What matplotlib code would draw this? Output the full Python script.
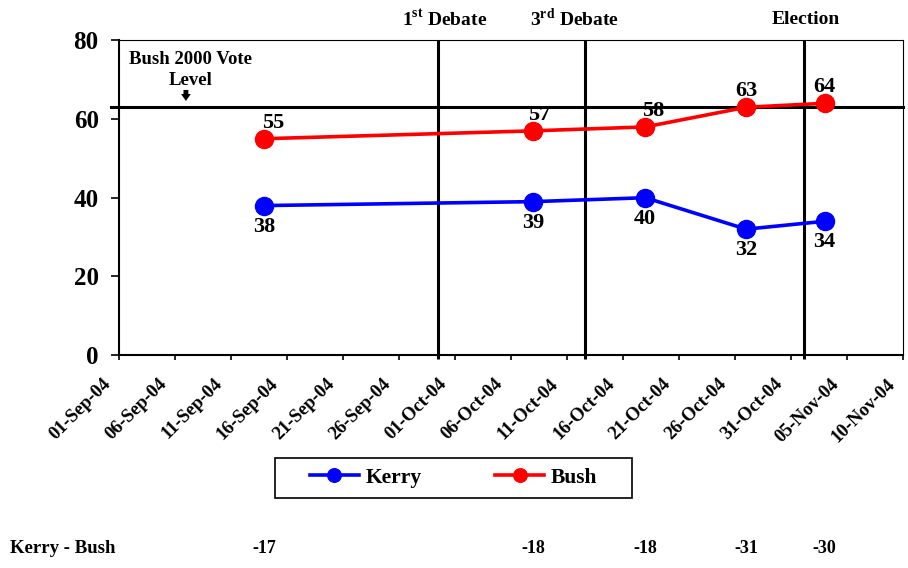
import matplotlib
matplotlib.use('Agg')
import matplotlib.pyplot as plt
import matplotlib.dates as mdates
import matplotlib.transforms as mtransforms
from matplotlib.patches import Rectangle
import numpy as np

plt.rcParams['font.family'] = 'Liberation Serif'
plt.rcParams['font.weight'] = 'bold'
plt.rcParams['mathtext.fontset'] = 'custom'
plt.rcParams['mathtext.rm'] = 'Liberation Serif:bold'
plt.rcParams['mathtext.bf'] = 'Liberation Serif:bold'

# poll data
poll_dates = ['2004-09-14', '2004-10-08', '2004-10-18', '2004-10-27', '2004-11-03']
kerry = [38, 39, 40, 32, 34]
bush = [55, 57, 58, 63, 64]

# events marked with vertical lines
events = ['1$^{\\mathrm{st}}$ Debate', '3$^{\\mathrm{rd}}$ Debate', 'Election']
event_dates = ['2004-09-29T12', '2004-10-12T14', '2004-11-01T05']
bush_2000_level = 63

tick_dates = np.arange('2004-09-01', '2004-11-11', 5, dtype='datetime64[D]')

xs = mdates.date2num(np.array(poll_dates, dtype='datetime64[D]'))
ex = mdates.date2num(np.array(event_dates, dtype='datetime64[h]'))
diff = [k - b for k, b in zip(kerry, bush)]

fig = plt.figure(figsize=(9.08, 5.68), dpi=100)
ax = fig.add_axes([118.7 / 908, 1 - 355 / 568, (903 - 118.7) / 908, (355 - 40.4) / 568])

ax.plot(xs, kerry, color='#0000FF', lw=2.6, marker='o', ms=13, label='Kerry', zorder=3)
ax.plot(xs, bush, color='#FF0000', lw=2.6, marker='o', ms=13, label='Bush', zorder=3)

ax.set_xlim(mdates.date2num(np.datetime64('2004-09-01')), mdates.date2num(np.datetime64('2004-11-10')))
ax.set_ylim(0, 80)
ax.set_xticks(mdates.date2num(tick_dates))
ax.xaxis.set_major_formatter(mdates.DateFormatter('%d-%b-%y'))
ax.set_yticks([0, 20, 40, 60, 80])

ax.tick_params(axis='x', direction='out', length=3.6, width=1.2, labelsize=13.5, pad=11)
ax.tick_params(axis='y', direction='out', length=5.8, width=1.2, labelsize=18, pad=8.6)
offset = mtransforms.ScaledTranslation(-5 / 100, 0, fig.dpi_scale_trans)
for lab in ax.get_xticklabels():
    lab.set_rotation(45)
    lab.set_ha('right')
    lab.set_transform(lab.get_transform() + offset)

for side in ['left', 'bottom']:
    ax.spines[side].set_linewidth(1.5)
for side in ['top', 'right']:
    ax.spines[side].set_linewidth(0.8)

# event lines and labels
ax.vlines(ex, -0.013, 1, transform=ax.get_xaxis_transform(), colors='k', lw=2.2, clip_on=False)
for x, name, dx in zip(ex, events, [7, -10, 1]):
    ax.annotate(name, xy=(x, 1.068), xycoords=('data', 'axes fraction'), xytext=(dx, 0),
                textcoords='offset pixels', ha='center', va='center', fontsize=14,
                annotation_clip=False)

# Bush 2000 vote level
ax.plot([-0.0102, 1], [bush_2000_level, bush_2000_level], transform=ax.get_yaxis_transform(),
        color='k', lw=2.2, clip_on=False)
xl = mdates.date2num(np.datetime64('2004-09-07T10', 'h'))
ax.text(xl, 72.5, 'Bush 2000 Vote\nLevel', ha='center', va='center', fontsize=13.5, linespacing=1.35)
xa = mdates.date2num(np.datetime64('2004-09-07T00', 'h'))
ax.annotate('', xy=(xa, 64.6), xytext=(xa, 67.4),
            arrowprops=dict(arrowstyle='simple,head_width=0.7,head_length=0.5,tail_width=0.35',
                            color='k', lw=0, shrinkA=0, shrinkB=0))

# data labels
for x, y, dx in zip(xs, bush, [9, 6, 8, 0, 0]):
    ax.annotate(str(y), (x, y), xytext=(dx, 16), textcoords='offset pixels',
                ha='center', va='center', fontsize=16)
for x, y in zip(xs, kerry):
    ax.annotate(str(y), (x, y), xytext=(0, -21), textcoords='offset pixels',
                ha='center', va='center', fontsize=16)

# legend
fig.legend(loc='center', bbox_to_anchor=(0.4995, 0.1585), ncol=2, frameon=False, fontsize=15.5,
           handlelength=2.3, handletextpad=0.3, columnspacing=3.4, markerscale=0.75)
fig.patches.append(Rectangle((275 / 908, 1 - 498 / 568), 357 / 908, 40 / 568, fill=False,
                             ec='k', lw=1.2, transform=fig.transFigure))

# difference row
fig.text(0.011, 0.035, 'Kerry - Bush', fontsize=13.5, va='center')
trans = mtransforms.blended_transform_factory(ax.transData, fig.transFigure)
for x, d in zip(xs, diff):
    ax.text(x, 0.035, str(d), transform=trans, ha='center', va='center', fontsize=13, clip_on=False)

fig.savefig('out.png', dpi=100)
